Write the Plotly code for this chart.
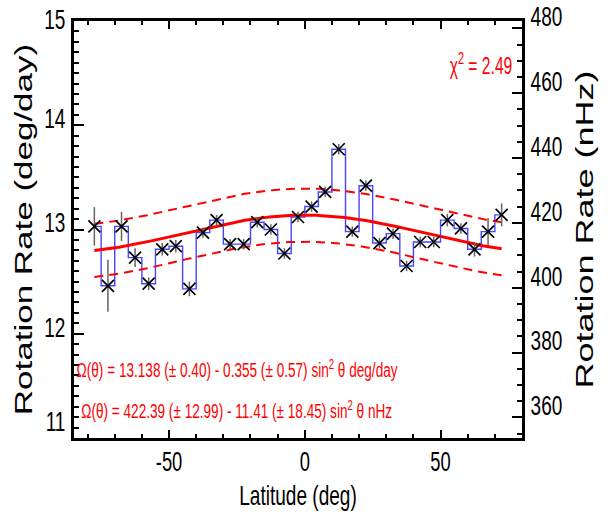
import numpy as np
import plotly.graph_objects as go

# ---------------- data ----------------
latitude = [-77.5, -72.5, -67.5, -62.5, -57.5, -52.5, -47.5, -42.5, -37.5, -32.5,
            -27.5, -22.5, -17.5, -12.5, -7.5, -2.5, 2.5, 7.5, 12.5, 17.5,
            22.5, 27.5, 32.5, 37.5, 42.5, 47.5, 52.5, 57.5, 62.5, 67.5, 72.5]
rotation_rate = [13.03, 12.46, 13.03, 12.73, 12.48, 12.81, 12.84, 12.43, 12.97, 13.09,
                 12.86, 12.86, 13.07, 13.00, 12.77, 13.12, 13.22, 13.36, 13.77, 12.98,
                 13.42, 12.87, 12.96, 12.65, 12.88, 12.88, 13.09, 13.01, 12.81, 12.98, 13.14]
rate_error = [0.185, 0.25, 0.14, 0.09, 0.06, 0.06, 0.06, 0.07, 0.05, 0.05,
              0.05, 0.05, 0.05, 0.05, 0.05, 0.05, 0.05, 0.05, 0.05, 0.05,
              0.05, 0.05, 0.05, 0.05, 0.05, 0.05, 0.06, 0.05, 0.07, 0.13, 0.11]

x_tickvals = [-50, 0, 50]
x_ticktext = ["-50", "0", "50"]

# fitted law printed on the chart: Omega = A + B sin^2(theta)
fit_A = 13.138
fit_B = -0.355
fit_band = 0.255          # half-width of dashed envelope (deg/day)
chi2_text = "χ<sup>2</sup> = 2.49"
eq_deg = "Ω(θ) = 13.138 (± 0.40) - 0.355 (± 0.57) sin<sup>2</sup> θ deg/day"
eq_nhz = "Ω(θ) = 422.39 (± 12.99) - 11.41 (± 18.45) sin<sup>2</sup> θ nHz"

left_range = [11, 15]
nhz_per_degday = 1e9 / (360.0 * 86400.0)
right_range = [left_range[0] * nhz_per_degday, left_range[1] * nhz_per_degday]
x_range = [-85, 80]

lat_fine = np.linspace(latitude[0], latitude[-1], 301)
fit = fit_A + fit_B * np.sin(np.radians(lat_fine)) ** 2

FONT = "Liberation Sans, Arial, Helvetica, sans-serif"
RED = "#ff0000"

fig = go.Figure()
fig.add_trace(go.Scatter(x=latitude, y=rotation_rate, mode="lines", line_shape="hvh",
                         line=dict(color="rgb(70,70,255)", width=1.4), hoverinfo="skip"))
fig.add_trace(go.Scatter(x=lat_fine, y=fit + fit_band, mode="lines",
                         line=dict(color=RED, width=2, dash="9px,6px")))
fig.add_trace(go.Scatter(x=lat_fine, y=fit - fit_band, mode="lines",
                         line=dict(color=RED, width=2, dash="9px,6px")))
fig.add_trace(go.Scatter(x=lat_fine, y=fit, mode="lines",
                         line=dict(color=RED, width=3)))
fig.add_trace(go.Scatter(x=latitude, y=rotation_rate, mode="markers",
                         error_y=dict(type="data", array=rate_error, color="rgb(100,100,100)",
                                      thickness=1.5, width=0),
                         marker=dict(symbol="x-thin-open", size=12,
                                     line=dict(color="black", width=1.7), color="black")))
# invisible trace so the nHz axis is attached to data
fig.add_trace(go.Scatter(x=lat_fine, y=fit * nhz_per_degday, yaxis="y2", mode="lines",
                         line=dict(width=0), opacity=0, hoverinfo="skip"))

axis_common = dict(showline=True, linewidth=3, linecolor="black", showgrid=False,
                   zeroline=False, ticks="inside", tickcolor="black", tickwidth=1.5)

fig.update_layout(
    width=613, height=531, autosize=False,
    margin=dict(l=72, r=79, t=6, b=93),
    plot_bgcolor="white", paper_bgcolor="white", showlegend=False,
    font=dict(family=FONT, color="black"),
    xaxis=dict(range=x_range, tickvals=x_tickvals, ticktext=x_ticktext, ticklen=8, mirror="ticks",
               minor=dict(dtick=10, tick0=0, ticklen=4, ticks="inside", tickcolor="black", tickwidth=1.5),
               tickfont=dict(family=FONT, size=27, color="black"),
               title=dict(text="Latitude (deg)", font=dict(family=FONT, size=28, color="black"),
                          standoff=0),
               ticklabelstandoff=1, **axis_common),
    yaxis=dict(range=left_range, dtick=1, ticklen=10, ticklabeloverflow="allow",
               minor=dict(dtick=0.1, ticklen=5, ticks="inside", tickcolor="black", tickwidth=1.5),
               tickfont=dict(family=FONT, size=28, color="black"),
               title=dict(text="Rotation Rate (deg/day)", font=dict(family=FONT, size=35, color="black"),
                          standoff=4),
               **axis_common),
    yaxis2=dict(range=right_range, overlaying="y", side="right", tick0=0, dtick=20, ticklen=10,
                ticklabeloverflow="allow",
                minor=dict(dtick=5, ticklen=5, ticks="inside", tickcolor="black", tickwidth=1.5),
                tickfont=dict(family=FONT, size=28, color="black"),
                title=dict(text="Rotation Rate (nHz)", font=dict(family=FONT, size=36, color="black"),
                           standoff=4),
                **axis_common),
    annotations=[
        dict(text=chi2_text, xref="paper", yref="paper", x=0.908, y=0.898, showarrow=False,
             xanchor="center", yanchor="middle",
             font=dict(family=FONT, size=23, color=RED)),
        dict(text=eq_deg, xref="paper", yref="paper", x=0.364, y=0.1667, showarrow=False,
             xanchor="center", yanchor="middle",
             font=dict(family=FONT, size=20, color=RED)),
        dict(text=eq_nhz, xref="paper", yref="paper", x=0.362, y=0.0694, showarrow=False,
             xanchor="center", yanchor="middle",
             font=dict(family=FONT, size=20, color=RED)),
    ],
)

# The reference figure was rendered with horizontally compressed type:
# squeeze every text horizontally on screen (rotated titles across their height).
post = """
document.documentElement.style.margin = '0';
document.body.style.margin = '0';
document.body.style.overflow = 'hidden';
var gd = document.getElementById('{plot_id}');
var SQ = 0.68;
function addT(el, s) { el.setAttribute('transform', ((el.getAttribute('transform') || '') + ' ' + s).trim()); }
gd.querySelectorAll('svg text').forEach(function(t) {
  var bb;
  try { bb = t.getBBox(); } catch (e) { return; }
  if (!bb || bb.width === 0) return;
  var cls = t.getAttribute('class') || '';
  var x = parseFloat(t.getAttribute('x')) || 0, y = parseFloat(t.getAttribute('y')) || 0;
  if (cls.indexOf('ytitle') >= 0 || cls.indexOf('y2title') >= 0) {
    var dx = (cls.indexOf('y2title') >= 0) ? -12 : 0;
    addT(t, 'translate(0,' + dx + ') translate(' + x + ',' + y + ') scale(1,' + SQ + ') translate(' + (-x) + ',' + (-y) + ')');
  } else {
    var anc = t.getAttribute('text-anchor') || 'start';
    var px = anc === 'end' ? bb.x + bb.width : (anc === 'middle' ? bb.x + bb.width / 2 : bb.x);
    addT(t, 'translate(' + px + ',0) scale(' + SQ + ',1) translate(' + (-px) + ',0)');
  }
});
var shifts = {
  'ytick': {'base': -7, '15': -2, '11': -17},
  'y2tick': {'base': -12},
  'xtick': {'base': -3}
};
Object.keys(shifts).forEach(function(cls) {
  gd.querySelectorAll('g.' + cls).forEach(function(g) {
    var t = g.querySelector('text');
    if (!t) return;
    var key = t.textContent.trim();
    var s = (key in shifts[cls]) ? shifts[cls][key] : shifts[cls]['base'];
    if (s) addT(g, 'translate(0,' + s + ')');
  });
});
"""

fig.write_html("out.html", post_script=post, config={"displayModeBar": False})
